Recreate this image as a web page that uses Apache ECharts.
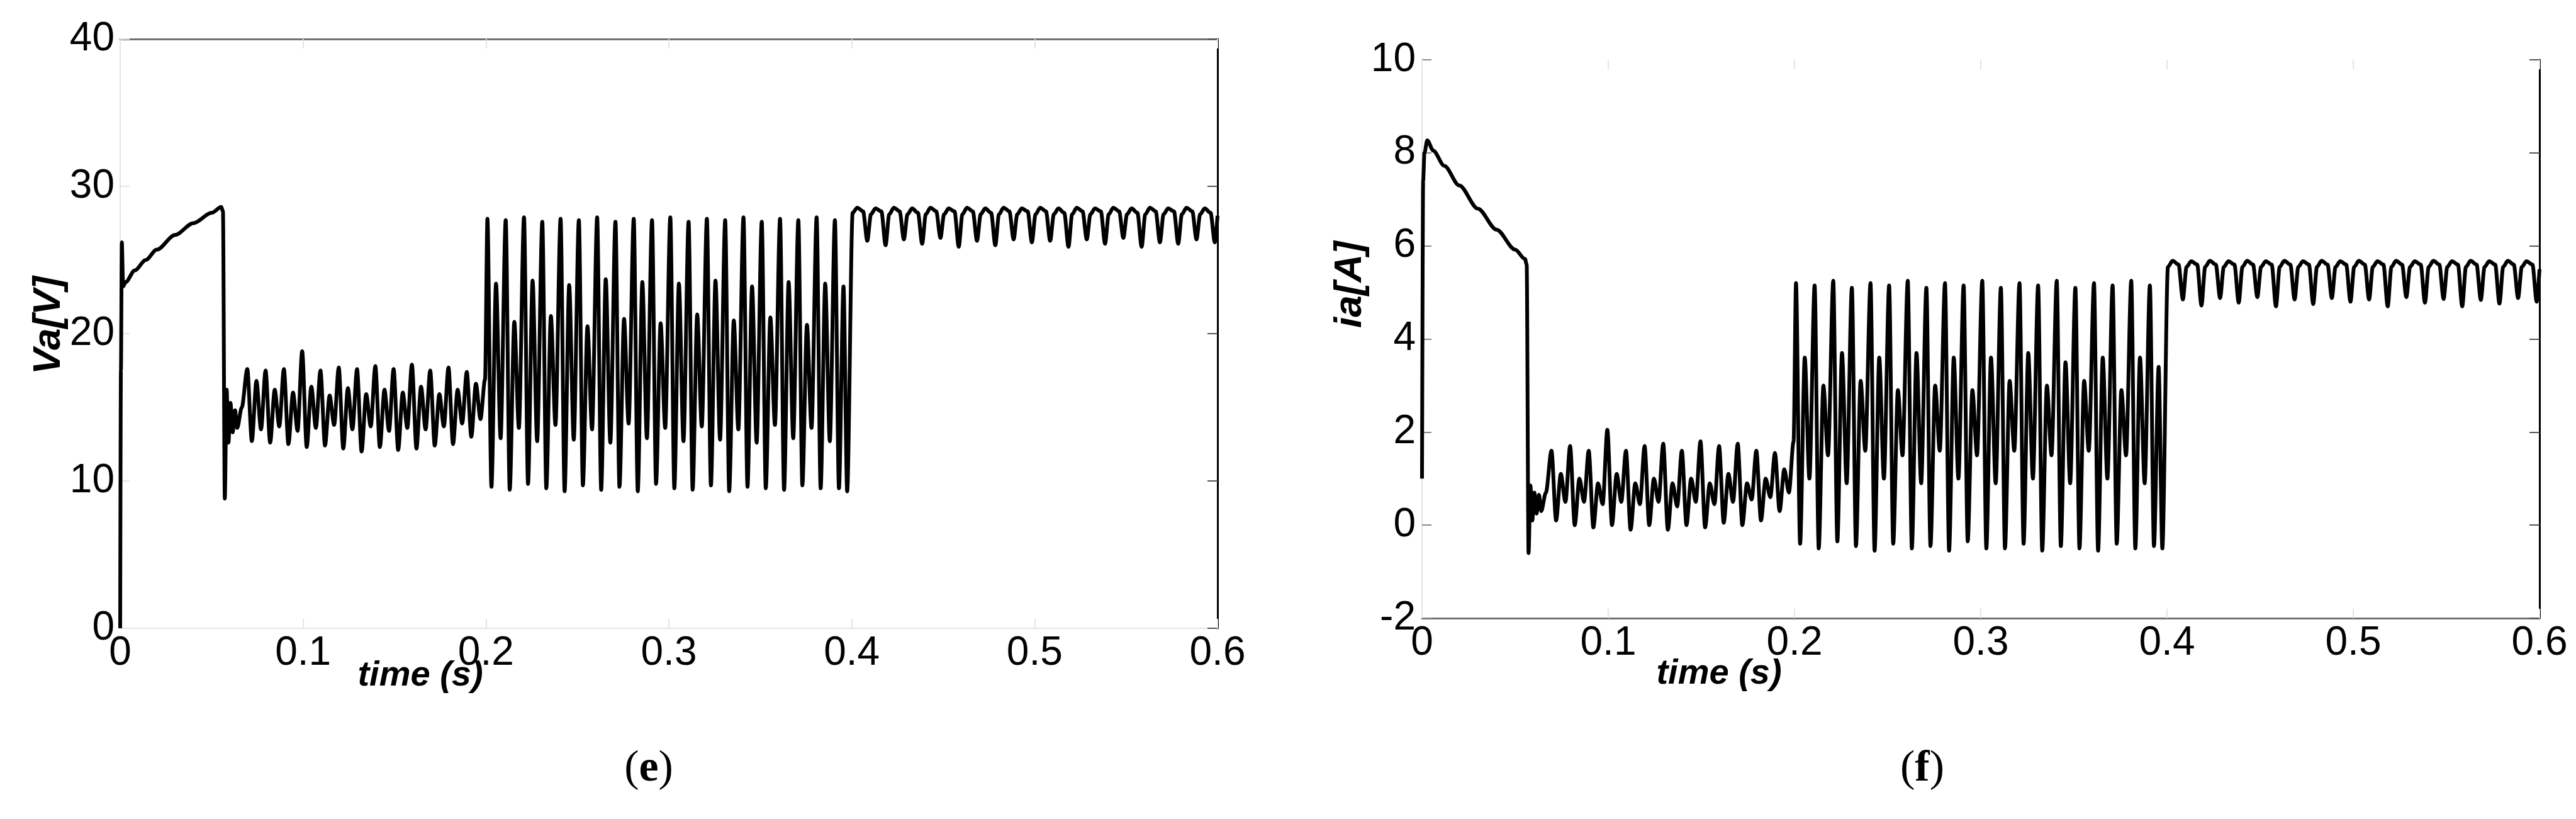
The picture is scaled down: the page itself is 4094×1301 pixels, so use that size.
<!DOCTYPE html>
<html>
<head>
<meta charset="utf-8">
<script src="https://cdn.jsdelivr.net/npm/echarts@6.0.0/dist/echarts.min.js"></script>
<style>
html,body{margin:0;padding:0;background:#fff;}
#chart{width:4094px;height:1301px;}
</style>
</head>
<body>
<div id="chart"></div>
<script>
// ---------- tick labels ----------
const timeTicks = [0, 0.1, 0.2, 0.3, 0.4, 0.5, 0.6];
const vaTicks = [0, 10, 20, 30, 40];
const iaTicks = [-2, 0, 2, 4, 6, 8, 10];

// ---------- (e) Va[V] : [time (s), volts] ----------
const vaStart = [[0,0],[0.0004,17.5],[0.0009,26.2],[0.0016,23.2],[0.003,23.5],[0.008,24.3],[0.014,25.0],[0.02,25.7],[0.03,26.7],[0.04,27.5],[0.05,28.2],[0.0553,28.6],[0.0562,28.3],[0.0572,8.8],[0.0582,16.2],[0.0592,12.6],[0.0603,15.3],[0.0615,13.3],[0.0628,14.8],[0.064,13.6],[0.0665,15.0]];
const vaLowRipple = [[0.0695,17.6],[0.072,12.7],[0.0745,16.8],[0.077,13.5],[0.0795,17.5],[0.082,12.6],[0.0845,16.2],[0.087,13.7],[0.0895,17.6],[0.092,12.5],[0.0945,16.0],[0.097,13.4],[0.0995,18.8],[0.102,12.3],[0.1045,16.4],[0.107,13.6],[0.1095,17.5],[0.112,12.4],[0.1145,15.8],[0.117,13.8],[0.1195,17.7],[0.122,12.2],[0.1245,16.3],[0.127,13.5],[0.1295,17.6],[0.132,12.0],[0.1345,15.9],[0.137,13.7],[0.1395,17.8],[0.142,12.3],[0.1445,16.2],[0.147,13.4],[0.1495,17.6],[0.152,12.1],[0.1545,16.0],[0.157,13.6],[0.1595,17.9],[0.162,12.2],[0.1645,16.4],[0.167,13.5],[0.1695,17.5],[0.172,12.4],[0.1745,15.9],[0.177,13.7],[0.1795,17.7],[0.182,12.5],[0.1845,16.2],[0.187,13.9],[0.1895,17.4],[0.192,13.0],[0.1945,16.6],[0.197,14.2],[0.1995,16.9]];
const vaBigOsc = [[0.2008,27.8],[0.203,9.6],[0.2055,23.4],[0.208,12.9],[0.2108,27.7],[0.213,9.4],[0.2155,20.8],[0.218,13.6],[0.2208,27.9],[0.223,9.8],[0.2255,23.6],[0.228,12.7],[0.2308,27.6],[0.233,9.5],[0.2355,21.2],[0.238,13.8],[0.2408,27.8],[0.243,9.3],[0.2455,23.3],[0.248,12.8],[0.2508,27.7],[0.253,9.7],[0.2555,20.5],[0.258,13.5],[0.2608,27.9],[0.263,9.4],[0.2655,23.7],[0.268,12.6],[0.2708,27.6],[0.273,9.6],[0.2755,21.0],[0.278,13.9],[0.2808,27.8],[0.283,9.3],[0.2855,23.5],[0.288,12.9],[0.2908,27.7],[0.293,9.8],[0.2955,20.7],[0.298,13.6],[0.3008,27.9],[0.303,9.5],[0.3055,23.4],[0.308,12.7],[0.3108,27.6],[0.313,9.4],[0.3155,21.3],[0.318,13.7],[0.3208,27.8],[0.323,9.7],[0.3255,23.6],[0.328,12.8],[0.3308,27.7],[0.333,9.3],[0.3355,20.9],[0.338,13.5],[0.3408,27.9],[0.343,9.6],[0.3455,23.2],[0.348,12.6],[0.3508,27.6],[0.353,9.5],[0.3555,21.1],[0.358,13.8],[0.3608,27.8],[0.363,9.4],[0.3655,23.5],[0.368,12.9],[0.3708,27.7],[0.373,9.7],[0.3755,20.6],[0.378,13.6],[0.3808,27.9],[0.383,9.5],[0.3855,23.4],[0.388,12.7],[0.3908,27.7],[0.393,9.5],[0.3955,23.2],[0.3975,9.3]];
const vaHighRipple = [[0.4005,28.2],[0.403,28.55],[0.4062,28.3],[0.4085,26.3],[0.4105,28.1],[0.413,28.5],[0.4162,28.3],[0.4185,26.0],[0.4205,28.1],[0.423,28.55],[0.4262,28.3],[0.4285,26.4],[0.4305,28.1],[0.433,28.5],[0.4362,28.2],[0.4385,26.1],[0.4405,28.1],[0.443,28.55],[0.4462,28.3],[0.4485,26.5],[0.4505,28.1],[0.453,28.5],[0.4562,28.3],[0.4585,25.9],[0.4605,28.1],[0.463,28.55],[0.4662,28.3],[0.4685,26.3],[0.4705,28.1],[0.473,28.5],[0.4762,28.2],[0.4785,26.0],[0.4805,28.1],[0.483,28.55],[0.4862,28.3],[0.4885,26.4],[0.4905,28.1],[0.493,28.5],[0.4962,28.3],[0.4985,26.2],[0.5005,28.1],[0.503,28.55],[0.5062,28.3],[0.5085,26.3],[0.5105,28.1],[0.513,28.5],[0.5162,28.2],[0.5185,25.9],[0.5205,28.1],[0.523,28.55],[0.5262,28.3],[0.5285,26.4],[0.5305,28.1],[0.533,28.5],[0.5362,28.3],[0.5385,26.1],[0.5405,28.1],[0.543,28.55],[0.5462,28.3],[0.5485,26.5],[0.5505,28.1],[0.553,28.5],[0.5562,28.2],[0.5585,25.9],[0.5605,28.1],[0.563,28.55],[0.5662,28.3],[0.5685,26.2],[0.5705,28.1],[0.573,28.5],[0.5762,28.3],[0.5785,26.1],[0.5805,28.1],[0.583,28.55],[0.5862,28.3],[0.5885,26.4],[0.5905,28.1],[0.593,28.5],[0.5962,28.2],[0.5985,26.2],[0.6,28.0]];

// ---------- (f) ia[A] : [time (s), amps] ----------
const iaStart = [[0,1.0],[0.0006,7.4],[0.0013,8.0],[0.0028,8.27],[0.006,8.05],[0.012,7.72],[0.02,7.3],[0.03,6.8],[0.04,6.35],[0.05,5.92],[0.0553,5.72],[0.0562,5.6],[0.0572,-0.6],[0.0582,0.85],[0.0592,0.1],[0.0603,0.7],[0.0615,0.25],[0.0628,0.65],[0.064,0.3],[0.0665,0.7]];
const iaLowRipple = [[0.0695,1.6],[0.072,0.1],[0.0745,1.1],[0.077,0.5],[0.0795,1.7],[0.082,0.0],[0.0845,1.0],[0.087,0.5],[0.0895,1.6],[0.092,-0.05],[0.0945,0.9],[0.097,0.45],[0.0995,2.05],[0.102,0.0],[0.1045,1.1],[0.107,0.5],[0.1095,1.6],[0.112,-0.1],[0.1145,0.9],[0.117,0.45],[0.1195,1.7],[0.122,0.0],[0.1245,1.0],[0.127,0.5],[0.1295,1.75],[0.132,-0.1],[0.1345,0.9],[0.137,0.4],[0.1395,1.6],[0.142,0.0],[0.1445,1.0],[0.147,0.5],[0.1495,1.8],[0.152,-0.05],[0.1545,0.9],[0.157,0.45],[0.1595,1.7],[0.162,0.05],[0.1645,1.1],[0.167,0.5],[0.1695,1.75],[0.172,0.0],[0.1745,0.9],[0.177,0.55],[0.1795,1.6],[0.182,0.1],[0.1845,1.0],[0.187,0.6],[0.1895,1.55],[0.192,0.3],[0.1945,1.2],[0.197,0.7],[0.1995,1.8]];
const iaBigOsc = [[0.2008,5.2],[0.203,-0.4],[0.2055,3.6],[0.208,1.0],[0.2108,5.15],[0.213,-0.5],[0.2155,3.0],[0.218,1.5],[0.2208,5.25],[0.223,-0.35],[0.2255,3.7],[0.228,0.9],[0.2308,5.1],[0.233,-0.45],[0.2355,3.1],[0.238,1.6],[0.2408,5.2],[0.243,-0.55],[0.2455,3.6],[0.248,1.0],[0.2508,5.15],[0.253,-0.4],[0.2555,2.9],[0.258,1.5],[0.2608,5.25],[0.263,-0.5],[0.2655,3.7],[0.268,0.9],[0.2708,5.1],[0.273,-0.45],[0.2755,3.0],[0.278,1.6],[0.2808,5.2],[0.283,-0.55],[0.2855,3.6],[0.288,1.0],[0.2908,5.15],[0.293,-0.35],[0.2955,2.9],[0.298,1.5],[0.3008,5.25],[0.303,-0.5],[0.3055,3.6],[0.308,0.9],[0.3108,5.1],[0.313,-0.5],[0.3155,3.1],[0.318,1.6],[0.3208,5.2],[0.323,-0.4],[0.3255,3.7],[0.328,1.0],[0.3308,5.15],[0.333,-0.55],[0.3355,3.0],[0.338,1.5],[0.3408,5.25],[0.343,-0.45],[0.3455,3.5],[0.348,0.9],[0.3508,5.1],[0.353,-0.5],[0.3555,3.1],[0.358,1.6],[0.3608,5.2],[0.363,-0.55],[0.3655,3.6],[0.368,1.0],[0.3708,5.15],[0.373,-0.4],[0.3755,2.9],[0.378,1.5],[0.3808,5.25],[0.383,-0.5],[0.3855,3.6],[0.388,0.9],[0.3908,5.15],[0.393,-0.45],[0.3955,3.4],[0.3975,-0.5]];
const iaHighRipple = [[0.4005,5.55],[0.403,5.68],[0.4062,5.6],[0.4085,4.85],[0.4105,5.55],[0.413,5.67],[0.4162,5.6],[0.4185,4.72],[0.4205,5.55],[0.423,5.68],[0.4262,5.6],[0.4285,4.88],[0.4305,5.55],[0.433,5.67],[0.4362,5.6],[0.4385,4.78],[0.4405,5.55],[0.443,5.68],[0.4462,5.6],[0.4485,4.9],[0.4505,5.55],[0.453,5.67],[0.4562,5.6],[0.4585,4.7],[0.4605,5.55],[0.463,5.68],[0.4662,5.6],[0.4685,4.85],[0.4705,5.55],[0.473,5.67],[0.4762,5.6],[0.4785,4.75],[0.4805,5.55],[0.483,5.68],[0.4862,5.6],[0.4885,4.88],[0.4905,5.55],[0.493,5.67],[0.4962,5.6],[0.4985,4.8],[0.5005,5.55],[0.503,5.68],[0.5062,5.6],[0.5085,4.85],[0.5105,5.55],[0.513,5.67],[0.5162,5.6],[0.5185,4.7],[0.5205,5.55],[0.523,5.68],[0.5262,5.6],[0.5285,4.9],[0.5305,5.55],[0.533,5.67],[0.5362,5.6],[0.5385,4.78],[0.5405,5.55],[0.543,5.68],[0.5462,5.6],[0.5485,4.86],[0.5505,5.55],[0.553,5.67],[0.5562,5.6],[0.5585,4.7],[0.5605,5.55],[0.563,5.68],[0.5662,5.6],[0.5685,4.84],[0.5705,5.55],[0.573,5.67],[0.5762,5.6],[0.5785,4.76],[0.5805,5.55],[0.583,5.68],[0.5862,5.6],[0.5885,4.88],[0.5905,5.55],[0.593,5.67],[0.5962,5.6],[0.5985,4.8],[0.6,5.5]];

// ---------- assemble ----------
const vaData = [].concat(vaStart, vaLowRipple, vaBigOsc, vaHighRipple);
const iaData = [].concat(iaStart, iaLowRipple, iaBigOsc, iaHighRipple);

const FONT = 'Liberation Sans, Arial, sans-serif';
const SERIF = 'Liberation Serif, Times New Roman, serif';
const tickFont = { fontFamily: FONT, fontSize: 64, color: '#000' };

function xAxisPair(gridIndex, bottomLine, topLine, labelMargin) {
  return [
    { type: 'value', gridIndex, position: 'bottom', min: timeTicks[0], max: timeTicks[timeTicks.length - 1],
      interval: timeTicks[1] - timeTicks[0],
      axisLine: { show: bottomLine.show, onZero: false, lineStyle: { color: bottomLine.color, width: bottomLine.width } },
      axisTick: { show: true, inside: true, length: 15, lineStyle: { color: '#e0e4e6', width: 2 } },
      axisLabel: Object.assign({ margin: labelMargin, formatter: v => String(+v.toFixed(1)) }, tickFont),
      splitLine: { show: false } },
    { type: 'value', gridIndex, position: 'top', min: timeTicks[0], max: timeTicks[timeTicks.length - 1],
      interval: timeTicks[1] - timeTicks[0],
      axisLine: { show: topLine.show, onZero: false, lineStyle: { color: topLine.color, width: topLine.width } },
      axisTick: { show: true, inside: true, length: 15, lineStyle: { color: '#e4e4e4', width: 2 } },
      axisLabel: { show: false }, splitLine: { show: false } }
  ];
}
function yAxisPair(gridIndex, ticks, leftTickColor, labelMargin) {
  const mn = ticks[0], mx = ticks[ticks.length - 1], iv = ticks[1] - ticks[0];
  return [
    { type: 'value', gridIndex, position: 'left', min: mn, max: mx, interval: iv,
      axisLine: { show: true, onZero: false, lineStyle: { color: '#e6e0e6', width: 2 } },
      axisTick: { show: true, inside: true, length: 15, lineStyle: { color: leftTickColor, width: 2 } },
      axisLabel: Object.assign({ margin: labelMargin }, tickFont),
      splitLine: { show: false } },
    { type: 'value', gridIndex, position: 'right', min: mn, max: mx, interval: iv,
      axisLine: { show: true, onZero: false, lineStyle: { color: '#000', width: 3 } },
      axisTick: { show: true, inside: true, length: 16, lineStyle: { color: '#555', width: 2 } },
      axisLabel: { show: false }, splitLine: { show: false } }
  ];
}

const chart = echarts.init(document.getElementById('chart'), null, { renderer: 'canvas' });
const titleStyle = { fontFamily: FONT, fontWeight: 'bold', fontStyle: 'italic', fill: '#000' };
function panelLabel(letter, x, y) {
  return { type: 'text', x, y,
    style: { text: '{p|(}{b|' + letter + '}{p|)}', align: 'center', verticalAlign: 'middle', textAlign: 'center', textVerticalAlign: 'middle',
      rich: { p: { fontFamily: SERIF, fontSize: 70, fill: '#000', color: '#000' },
              b: { fontFamily: SERIF, fontSize: 70, fontWeight: 'bold', fill: '#000', color: '#000' } } } };
}

chart.setOption({
  animation: false,
  backgroundColor: '#fff',
  grid: [
    { left: 191, top: 62, width: 1744, height: 936, outerBoundsMode: 'none', containLabel: false },
    { left: 2260, top: 95, width: 1776, height: 887, outerBoundsMode: 'none', containLabel: false }
  ],
  xAxis: [].concat(
    xAxisPair(0, { show: true, color: '#dde6e8', width: 2 }, { show: true, color: '#707070', width: 3 }, 8),
    xAxisPair(1, { show: true, color: '#707070', width: 3 }, { show: false, color: '#eee', width: 1 }, 8)
  ),
  yAxis: [].concat(
    yAxisPair(0, vaTicks, '#e4e4e4', 9),
    yAxisPair(1, iaTicks, '#888', 10)
  ),
  series: [
    { type: 'line', xAxisIndex: 0, yAxisIndex: 0, data: vaData, showSymbol: false, silent: true,
      smooth: 0.3, smoothMonotone: 'x', lineStyle: { color: '#000', width: 6 } },
    { type: 'line', xAxisIndex: 2, yAxisIndex: 2, data: iaData, showSymbol: false, silent: true,
      smooth: 0.3, smoothMonotone: 'x', lineStyle: { color: '#000', width: 6 } }
  ],
  graphic: [
    { type: 'text', x: 78, y: 517, rotation: Math.PI / 2,
      style: Object.assign({ text: 'Va[V]', fontSize: 62, align: 'center', verticalAlign: 'middle', textAlign: 'center', textVerticalAlign: 'middle' }, titleStyle) },
    { type: 'text', x: 2146, y: 452, rotation: Math.PI / 2,
      style: Object.assign({ text: 'ia[A]', fontSize: 62, align: 'center', verticalAlign: 'middle', textAlign: 'center', textVerticalAlign: 'middle' }, titleStyle) },
    { type: 'text', x: 668, y: 1074,
      style: Object.assign({ text: 'time (s)', fontSize: 56, align: 'center', verticalAlign: 'middle', textAlign: 'center', textVerticalAlign: 'middle' }, titleStyle) },
    { type: 'text', x: 2732, y: 1071,
      style: Object.assign({ text: 'time (s)', fontSize: 56, align: 'center', verticalAlign: 'middle', textAlign: 'center', textVerticalAlign: 'middle' }, titleStyle) },
    panelLabel('e', 1031, 1222),
    panelLabel('f', 3055, 1222)
  ]
});
</script>
</body>
</html>
